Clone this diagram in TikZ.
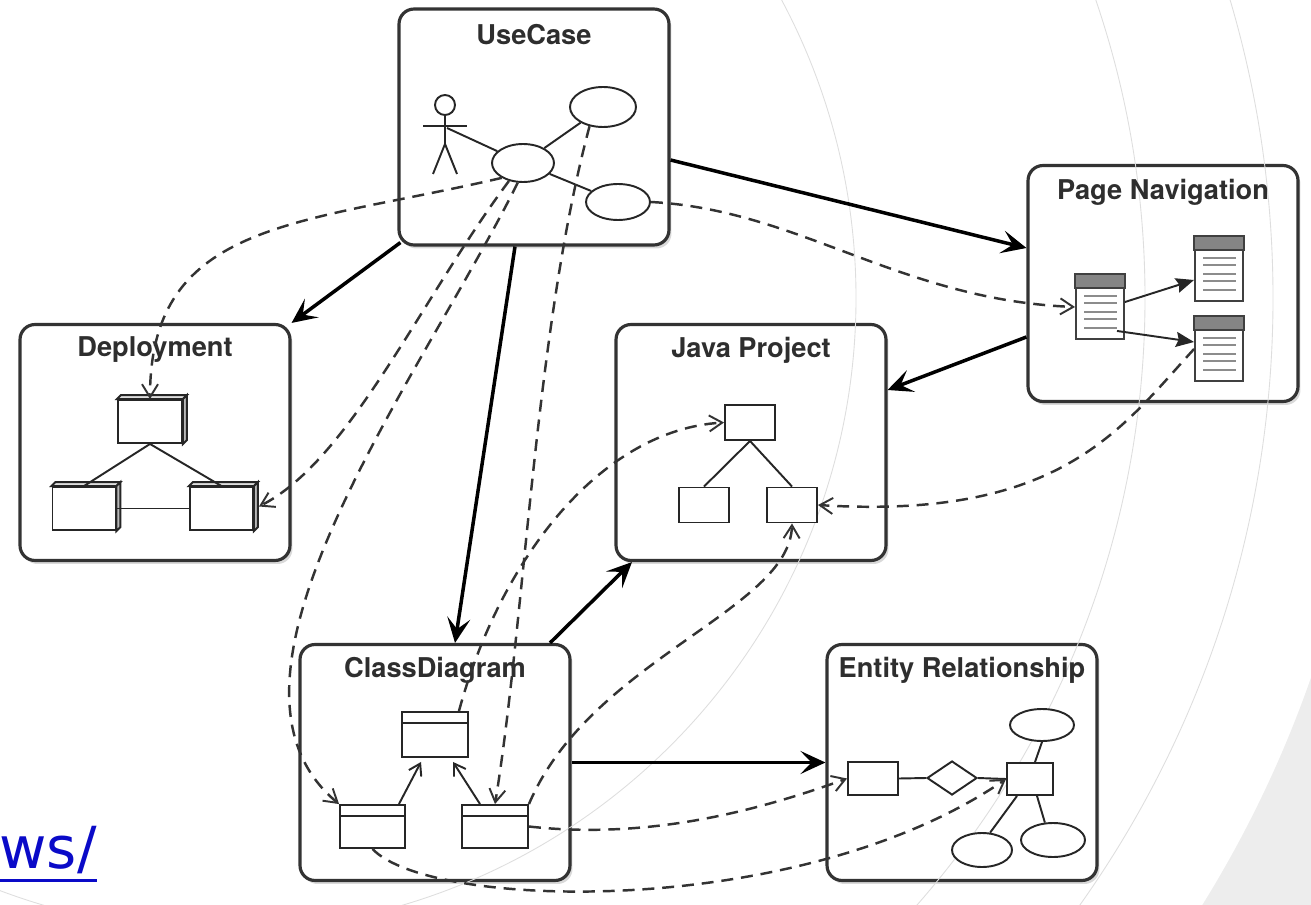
\documentclass[tikz,border=0pt]{standalone}
\usepackage{fontspec}
\setmainfont{TeX Gyre Heros}
\newfontfamily\linkfont{DejaVu Sans}
\usetikzlibrary{shapes.geometric,arrows.meta,calc,shadows}
\definecolor{boxline}{HTML}{333333}
\definecolor{titlegray}{HTML}{2E2E2E}
\definecolor{arcgray}{HTML}{DEDEDE}
\definecolor{bgfill}{HTML}{EDEDED}
\definecolor{linkblue}{HTML}{0A0AC8}
\definecolor{headgray}{HTML}{858585}
\definecolor{rulegray}{HTML}{8C8C8C}
\tikzstyle{box}=[rectangle, rounded corners=0.3cm, draw=boxline, line width=1.8pt, fill=white, minimum width=5.4cm, minimum height=4.72cm, drop shadow={shadow xshift=0.05cm, shadow yshift=-0.07cm, opacity=0.3}]
\tikzstyle{title}=[font=\bfseries\fontsize{15.5}{18}\selectfont, text=titlegray]
\tikzstyle{flow}=[line width=2pt, -{Stealth[length=0.5cm, width=0.46cm, inset=0.22cm]}]
\tikzstyle{trace}=[line width=1.4pt, draw=black!80, dash pattern=on 6.8pt off 4.5pt, -{Straight Barb[length=0.26cm, width=0.32cm, line width=1.1pt]}]
\tikzstyle{part}=[rectangle, draw=black!85, line width=1.1pt, fill=white, inner sep=0pt]
\tikzstyle{oval}=[ellipse, draw=black!85, line width=1.1pt, fill=white, inner sep=0pt]
\tikzstyle{thin}=[draw=black!85, line width=1.1pt]
\tikzstyle{page}=[rectangle, draw=black!75, line width=1.1pt, fill=white, inner sep=0pt, minimum width=0.96cm, minimum height=1.28cm]
\tikzstyle{link}=[font=\linkfont\fontsize{33}{36}\selectfont, text=linkblue, inner sep=0pt]

\begin{document}
\begin{tikzpicture}[x=0.02cm, y=-0.02cm]
  %\draw [help lines, step=50] (0,0) grid (1311,905);
  \useasboundingbox (0,0) rectangle (1311,905);
  \begin{scope}
    \clip (0,0) rectangle (1311,905);
    \fill[bgfill, even odd rule] (223,298) circle (1152) (-100,-100) rectangle (1411,1005);
  \end{scope}

  \node[box] (usecase) at (534,127) {};
  \node[box] (pagenav) at (1163,283.5) {};
  \node[box] (deploy) at (155,442.5) {};
  \node[box] (javaproj) at (751,442.5) {};
  \node[box] (classdiag) at (435,762.5) {};
  \node[box] (entity) at (962,762.5) {};

  \begin{scope}
    \clip (0,0) rectangle (1311,905);
    \foreach \r in {633,922,1050}
      \draw[arcgray, line width=0.5pt] (223,298) circle (\r);
  \end{scope}

  \node[title] at (534,35) {UseCase};
  \node[title] at (1163,192) {Page Navigation};
  \node[title] at (155,350) {Deployment};
  \node[title] at (751,350) {Java Project};
  \node[title] at (435,670) {ClassDiagram};
  \node[title] at (962,670) {Entity Relationship};

  % use case
  \node[circle, thin, minimum size=0.4cm, inner sep=0pt] (head) at (445,105) {};
  \draw[thin] (head.south) -- ++(0,28) coordinate (hip);
  \draw[thin] (hip) -- ++(-12,30);
  \draw[thin] (hip) -- ++(12,30);
  \draw[thin] (423,126) -- (467,126);
  \coordinate (actor) at (447,128);
  \node[oval, minimum width=1.24cm, minimum height=0.76cm] (ucmain) at (523,163) {};
  \node[oval, minimum width=1.32cm, minimum height=0.8cm] (uctop) at (603,107) {};
  \node[oval, minimum width=1.28cm, minimum height=0.72cm] (ucbot) at (618,202) {};
  \draw[thin] (actor) -- (ucmain);
  \draw[thin] (ucmain) -- (uctop);
  \draw[thin] (ucmain) -- (ucbot);

  % page navigation
  \node[page] (pleft) at (1100,307) {};
  \node[page] (ptr) at (1219,269) {};
  \node[page] (pbr) at (1219,349) {};
  \foreach \p in {pleft,ptr,pbr} {
    \filldraw[fill=headgray, draw=black!75, line width=1.1pt] (\p.north west) rectangle ($(\p.north east)+(0,14)$);
    \foreach \k in {22,29,38,45,54}
      \draw[rulegray, line width=0.8pt] ($(\p.north west)+(9,\k)$) -- ($(\p.north east)+(-8,\k)$);
  }
  \draw[thin, -{Stealth[length=0.36cm, width=0.3cm, inset=0.05cm]}] ($(pleft.east)+(0,-5)$) -- ($(ptr.west)+(0,11)$);
  \draw[thin, -{Stealth[length=0.36cm, width=0.3cm, inset=0.05cm]}] ($(pleft.south east)+(-8,-9)$) -- ($(pbr.west)+(0,-7)$);

  % deployment
  \node[part, minimum width=1.28cm, minimum height=0.86cm] (dtop) at (150,421.5) {};
  \node[part, minimum width=1.26cm, minimum height=0.86cm] (dleft) at (84,508.5) {};
  \node[part, minimum width=1.26cm, minimum height=0.86cm] (dright) at (221.5,508.5) {};
  \foreach \d in {dtop,dleft,dright} {
    \filldraw[fill=gray!25, thin] (\d.north west) -- ++(4,-4) -- ($(\d.north east)+(4,-4)$) -- (\d.north east) -- cycle;
    \filldraw[fill=gray!55, thin] (\d.north east) -- ++(4,-4) -- ($(\d.south east)+(4,-4)$) -- (\d.south east) -- cycle;
  }
  \draw[thin] (dtop.south) -- (dleft.north);
  \draw[thin] (dtop.south) -- (dright.north);
  \draw[thin] (dleft.east) -- (dright.west);

  % java project
  \node[part, minimum width=1cm, minimum height=0.7cm] (jtop) at (750,422.5) {};
  \node[part, minimum width=1cm, minimum height=0.7cm] (jleft) at (704,505) {};
  \node[part, minimum width=1cm, minimum height=0.7cm] (jright) at (792,505) {};
  \draw[thin] (jtop.south) -- (jleft.north);
  \draw[thin] (jtop.south) -- (jright.north);

  % class diagram
  \node[part, minimum width=1.32cm, minimum height=0.9cm] (ctop) at (435,734.5) {};
  \node[part, minimum width=1.3cm, minimum height=0.86cm] (cleft) at (372.5,826.5) {};
  \node[part, minimum width=1.32cm, minimum height=0.86cm] (cright) at (495,826.5) {};
  \foreach \c in {ctop,cleft,cright}
    \draw[thin] ($(\c.north west)+(0,12)$) -- ($(\c.north east)+(0,12)$);
  \draw[thin, -{Straight Barb[length=0.22cm, width=0.28cm]}] ($(cleft.north east)+(-7,0)$) -- ($(ctop.south)+(-14,4)$);
  \draw[thin, -{Straight Barb[length=0.22cm, width=0.28cm]}] ($(cright.north)+(-15,0)$) -- ($(ctop.south)+(18,4)$);

  % entity relationship
  \node[part, minimum width=1cm, minimum height=0.66cm] (erleft) at (873,778.5) {};
  \node[diamond, thin, fill=white, inner sep=0pt, minimum width=1cm, minimum height=0.68cm] (erdia) at (952,778) {};
  \node[part, minimum width=0.92cm, minimum height=0.64cm] (erright) at (1030,779) {};
  \node[oval, minimum width=1.28cm, minimum height=0.64cm] (etop) at (1042,725) {};
  \node[oval, minimum width=1.2cm, minimum height=0.68cm] (ebl) at (982,850) {};
  \node[oval, minimum width=1.28cm, minimum height=0.68cm] (ebr) at (1053,840) {};
  \draw[thin] (erleft.east) -- (erdia.west);
  \draw[thin] (erdia.east) -- (erright.west);
  \draw[thin] ($(erright.north)+(5,0)$) -- (etop.south);
  \draw[thin] ($(erright.south)+(-13,0)$) -- (ebl.65);
  \draw[thin] ($(erright.south)+(7,0)$) -- (ebr.115);

  \draw[flow] (usecase.east |- 0,160) -- (pagenav.west |- 0,248);
  \draw[flow] ($(usecase.south west)+(3,-4)$) -- (deploy.north east);
  \draw[flow] (515,0 |- usecase.south) -- (455,0 |- classdiag.north);
  \draw[flow] (pagenav.west |- 0,337) -- (javaproj.east |- 0,390);
  \draw[flow] (550,0 |- classdiag.north) -- (632,0 |- javaproj.south);
  \draw[flow] (classdiag.east) -- (entity.west);

  \draw[trace] (ucmain.215) .. controls (300,225) and (150,220) .. (dtop.north);
  \draw[trace] (ucmain.232) .. controls (420,300) and (350,460) .. ($(dright.east)+(5,-2)$);
  \draw[trace] (ucmain.255) .. controls (420,380) and (190,680) .. (cleft.north west);
  \draw[trace] (uctop.235) .. controls (535,330) and (525,620) .. (cright.north);
  \draw[trace] (ucbot.east) .. controls (800,210) and (900,300) .. (pleft.west);
  \draw[trace] ($(ctop.north east)+(-10,0)$) .. controls (500,560) and (600,430) .. (jtop.west);
  \draw[trace] (cright.north east) .. controls (590,660) and (790,610) .. (jright.south);
  \draw[trace] (cright.east) .. controls (650,840) and (760,810) .. (erleft.west);
  \draw[trace] (cleft.south) .. controls (430,910) and (800,920) .. (erright.west);
  \draw[trace] (pbr.west) .. controls (1120,430) and (1060,520) .. (jright.east);

  \node[link, anchor=base east] (weblink) at (97,868) {ws/};
  \draw[linkblue, line width=1.7pt] (0,880) -- (weblink.base east |- 0,880);

\end{tikzpicture}
\end{document}
